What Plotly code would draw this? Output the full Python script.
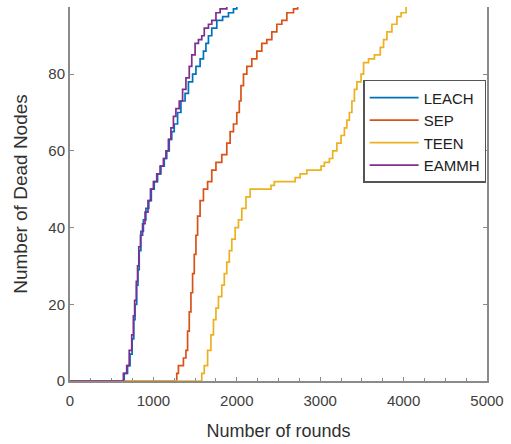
import plotly.graph_objects as go

# ---- data (rounds, dead nodes) ----
leach_x = [0, 620, 650, 690, 720, 745, 765, 780, 800, 815, 830, 850, 880, 910, 945, 975, 1010, 1050, 1090, 1130, 1160, 1190, 1220, 1250, 1290, 1330, 1380, 1420, 1470, 1510, 1560, 1600, 1630, 1660, 1700, 1760, 1830, 1900, 1960, 2000, 2050]
leach_y = [0, 0, 2, 4, 7, 11, 16, 20, 25, 29, 34, 39, 42, 45, 47, 50, 52, 54, 56, 58, 60, 63, 65, 67, 70, 73, 75, 78, 80, 82, 84, 86, 88, 90, 92, 94, 95, 96, 97, 98, 100]

sep_x = [0, 1262, 1280, 1300, 1360, 1390, 1410, 1430, 1450, 1470, 1490, 1510, 1530, 1560, 1600, 1650, 1700, 1750, 1820, 1880, 1920, 1960, 2000, 2030, 2050, 2080, 2120, 2180, 2240, 2300, 2360, 2420, 2480, 2540, 2600, 2680, 2730, 2760]
sep_y = [0, 0, 2, 4, 6, 8, 13, 18, 23, 28, 33, 38, 43, 47, 50, 52, 55, 57, 59, 62, 65, 67, 70, 73, 77, 80, 82, 84, 86, 88, 89, 91, 93, 94, 96, 97, 99, 100]

teen_x = [0, 1540, 1580, 1610, 1650, 1690, 1720, 1750, 1780, 1820, 1850, 1880, 1910, 1940, 1980, 2020, 2060, 2110, 2160, 2410, 2450, 2700, 2760, 2840, 3010, 3050, 3110, 3150, 3200, 3250, 3290, 3320, 3350, 3380, 3410, 3440, 3490, 3520, 3580, 3650, 3720, 3760, 3800, 3860, 3920, 3970, 4030, 4060]
teen_y = [0, 0, 2, 4, 8, 12, 16, 19, 22, 25, 28, 31, 34, 37, 40, 42, 45, 48, 50, 51, 52, 53, 54, 55, 56, 57, 58, 60, 62, 64, 66, 68, 70, 73, 76, 78, 80, 83, 84, 85, 87, 89, 91, 93, 95, 96, 98, 100]

eammh_x = [0, 610, 640, 680, 710, 740, 760, 775, 795, 810, 825, 845, 870, 900, 935, 965, 1000, 1040, 1080, 1120, 1150, 1180, 1210, 1240, 1270, 1310, 1350, 1390, 1430, 1460, 1500, 1540, 1580, 1610, 1660, 1700, 1750, 1800, 1880, 1950]
eammh_y = [0, 0, 2, 4, 8, 12, 17, 21, 26, 30, 35, 38, 41, 44, 47, 50, 52, 54, 56, 58, 60, 63, 66, 69, 71, 73, 76, 79, 82, 85, 88, 89, 90, 92, 93, 94, 96, 97, 98, 100]

x_ticks = [0, 1000, 2000, 3000, 4000, 5000]
y_ticks = [0, 20, 40, 60, 80]

series = [
    ("LEACH", leach_x, leach_y, "#0072BD"),
    ("SEP", sep_x, sep_y, "#D95319"),
    ("TEEN", teen_x, teen_y, "#EDB120"),
    ("EAMMH", eammh_x, eammh_y, "#7E2F8E"),
]

fig = go.Figure()
for name, xs, ys, col in series:
    fig.add_trace(go.Scatter(x=xs, y=ys, name=name, mode="lines",
                             line=dict(color=col, width=1.7, shape="hv")))

axis_col = "#8a8a8a"
font_fam = "Liberation Sans, Arial, sans-serif"

fig.update_layout(
    width=511, height=444,
    margin=dict(l=70, r=24, t=7, b=63),
    paper_bgcolor="white", plot_bgcolor="white",
    font=dict(family=font_fam, size=13, color="#404040"),
    showlegend=True,
    legend=dict(x=0.703, y=0.805, xanchor="left", yanchor="top",
                bgcolor="white", bordercolor="#555555", borderwidth=1.5,
                font=dict(family=font_fam, size=15, color="#202020"),
                itemwidth=49, tracegroupgap=0),
    xaxis=dict(range=[0, 5000], tickvals=x_ticks, ticks="inside", ticklen=4,
               tickcolor=axis_col, showline=True, linecolor=axis_col, linewidth=2,
               showgrid=False, zeroline=False, mirror=False, layer="below traces",
               minor=dict(dtick=250, ticks="inside", ticklen=3, tickcolor=axis_col),
               ticklabelstandoff=5,
               title=dict(text="Number of rounds", font=dict(size=18, color="#303030"), standoff=16),
               tickfont=dict(size=15, color="#404040")),
    yaxis=dict(range=[0, 97.5], tickvals=y_ticks, ticks="inside", ticklen=4,
               tickcolor=axis_col, showline=True, linecolor=axis_col, linewidth=2,
               showgrid=False, zeroline=False, mirror="ticks", layer="below traces",
               title=dict(text="Number of Dead Nodes", font=dict(size=19, color="#303030"), standoff=16),
               tickfont=dict(size=15, color="#404040")),
)

fig.write_html("out.html")
